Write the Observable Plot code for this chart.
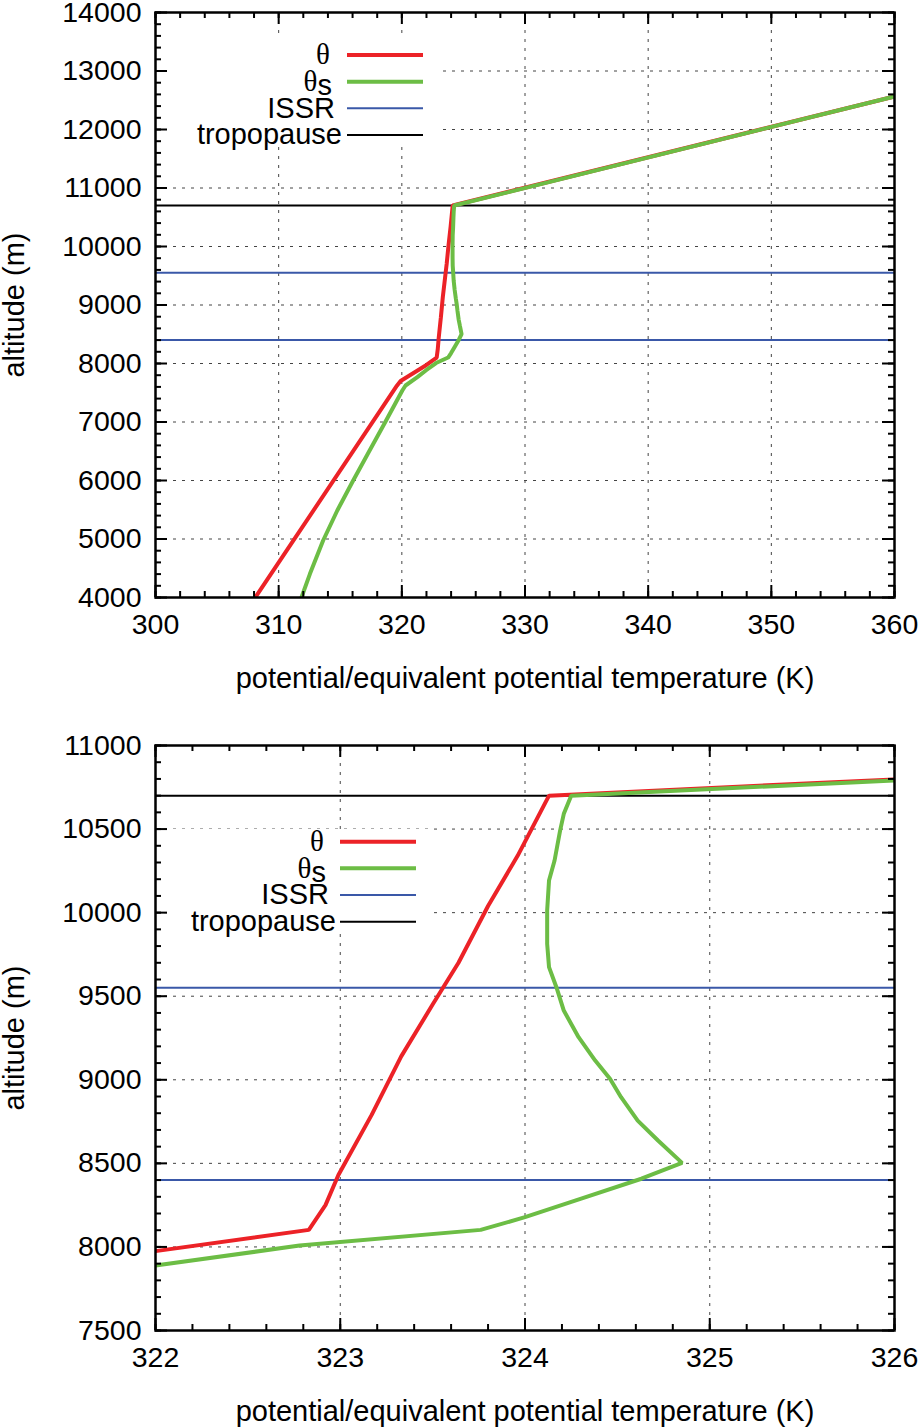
<!DOCTYPE html>
<html>
<head>
<meta charset="utf-8">
<script src="https://cdn.jsdelivr.net/npm/d3@7"></script>
<script src="https://cdn.jsdelivr.net/npm/@observablehq/plot@0.6"></script>
<style>
  body { margin: 0; background: #fff; }
  .panel { position: relative; width: 924px; }
  .legend { position: absolute; left: 0; top: 0; pointer-events: none; }
</style>
</head>
<body>
<div id="chart"></div>
<script>
// ---- data ----
// potential temperature θ (K) and altitude (m)
const thetaK = [308.1, 319.6, 319.9, 322.0, 322.83, 322.92, 322.99, 323.17, 323.33, 323.50, 323.64, 323.80, 323.96, 324.13, 360.0];
const thetaZ = [4000, 7620, 7700, 7975, 8102, 8250, 8430, 8790, 9140, 9450, 9700, 10040, 10340, 10700, 12565];
// saturation equivalent potential temperature θs (K) and altitude (m)
const thetaSK = [311.85, 312.54, 313.61, 314.76, 316.05, 317.24, 318.58, 320.04, 320.3, 321.26, 322.0, 322.78, 323.76, 324.0, 324.3, 324.63, 324.85, 324.72, 324.61, 324.52, 324.46, 324.38, 324.29, 324.21, 324.17, 324.13, 324.12, 324.12, 324.13, 324.16, 324.19, 324.21, 324.25, 360.0];
const thetaSZ = [4000, 4405, 4974, 5487, 6000, 6456, 6969, 7538, 7624, 7766, 7889, 8008, 8102, 8178, 8288, 8408, 8503, 8637, 8756, 8896, 9006, 9115, 9255, 9414, 9554, 9674, 9813, 10013, 10192, 10312, 10491, 10591, 10700, 12565];
// ice-supersaturated region bounds and tropopause (m)
const issrZ = [8400, 9550];
const tropopauseZ = [10700];

// axes
const topXDomain = [300, 360];
const topYDomain = [4000, 14000];
const topXTicks = [300, 310, 320, 330, 340, 350, 360];
const topYTicks = [4000, 5000, 6000, 7000, 8000, 9000, 10000, 11000, 12000, 13000, 14000];
const botXDomain = [322, 326];
const botYDomain = [7500, 11000];
const botXTicks = [322, 323, 324, 325, 326];
const botYTicks = [7500, 8000, 8500, 9000, 9500, 10000, 10500, 11000];
const xLabel = "potential/equivalent potential temperature (K)";
const yLabel = "altitude (m)";
const legendLabels = ["θ", "θs", "ISSR", "tropopause"];

// ---- styles ----
const SANS = "'Liberation Sans', Arial, Helvetica, sans-serif";
const SERIF = "'Liberation Serif', 'Times New Roman', serif";
const RED = "#ec2227", GREEN = "#6cbd45", BLUE = "#3a58a8", GRID = "#444";
const FS = 29, TFS = 28.5;
const legendTextShift = [-12, -10, -7, 0];

const theta = thetaK.map((t, i) => ({t, z: thetaZ[i]}));
const thetaS = thetaSK.map((t, i) => ({t, z: thetaSZ[i]}));

const minor = (dom, step) => d3.range(dom[0], dom[1] + step / 2, step).map(v => +v.toFixed(6));

function makePanel(cfg) {
  const W = 924, ML = 155, MR = 30;
  const plotW = W - ML - MR;
  const plotH = cfg.height - cfg.marginTop - cfg.marginBottom;
  const xMinor = minor(cfg.xDomain, cfg.xMinorStep);
  const yMinor = minor(cfg.yDomain, cfg.yMinorStep);
  const tickStyle = {stroke: "#000", strokeWidth: 2};
  const gridStyle = {stroke: GRID, strokeOpacity: 1, strokeWidth: 1, strokeDasharray: "3,6"};
  const svg = Plot.plot({
    width: W, height: cfg.height,
    marginLeft: ML, marginRight: MR, marginTop: cfg.marginTop, marginBottom: cfg.marginBottom,
    x: {domain: cfg.xDomain},
    y: {domain: cfg.yDomain},
    style: {fontFamily: SANS, fontSize: FS + "px", color: "#000", background: "#fff", overflow: "visible"},
    marks: [
      Plot.gridX(cfg.xTicks.slice(1, -1), gridStyle),
      Plot.gridY(cfg.yTicks.slice(1, -1), gridStyle),
      Plot.ruleY(issrZ, {y: d => d, stroke: BLUE, strokeWidth: 2, clip: true}),
      Plot.ruleY(tropopauseZ, {y: d => d, stroke: "#000", strokeWidth: 2, clip: true}),
      Plot.line(theta, {x: "t", y: "z", stroke: RED, strokeWidth: 4, strokeLinejoin: "miter", clip: true}),
      Plot.line(thetaS, {x: "t", y: "z", stroke: GREEN, strokeWidth: 4, strokeLinejoin: "miter", clip: true}),
      Plot.frame({stroke: "#000", strokeWidth: 2.5}),
      Plot.tickX(xMinor, {x: d => d, insetTop: plotH - 6, ...tickStyle}),
      Plot.tickX(xMinor, {x: d => d, insetBottom: plotH - 6, ...tickStyle}),
      Plot.tickX(cfg.xTicks, {x: d => d, insetTop: plotH - 12, ...tickStyle}),
      Plot.tickX(cfg.xTicks, {x: d => d, insetBottom: plotH - 12, ...tickStyle}),
      Plot.tickY(yMinor, {y: d => d, insetRight: plotW - 6, ...tickStyle}),
      Plot.tickY(yMinor, {y: d => d, insetLeft: plotW - 6, ...tickStyle}),
      Plot.tickY(cfg.yTicks, {y: d => d, insetRight: plotW - 12, ...tickStyle}),
      Plot.tickY(cfg.yTicks, {y: d => d, insetLeft: plotW - 12, ...tickStyle}),
      Plot.axisX(cfg.xTicks, {anchor: "bottom", tickSize: 0, tickPadding: 16, tickFormat: d3.format("d"), fontSize: TFS, label: null}),
      Plot.axisY(cfg.yTicks, {anchor: "left", tickSize: 0, tickPadding: 14, tickFormat: d3.format("d"), fontSize: TFS, label: null}),
      Plot.text([xLabel], {text: d => d, frameAnchor: "bottom", textAnchor: "middle", lineAnchor: "bottom", dy: 90, fontSize: FS}),
      Plot.text([yLabel], {text: d => d, frameAnchor: "left", textAnchor: "middle", lineAnchor: "bottom", rotate: -90, dx: -132, fontSize: FS})
    ]
  });

  const wrap = document.createElement("div");
  wrap.className = "panel";
  wrap.appendChild(svg);

  // legend (opaque key box like the original)
  const lg = cfg.legend;
  const L = d3.create("svg").attr("class", "legend").attr("width", W).attr("height", cfg.height);
  L.append("rect").attr("x", lg.box[0]).attr("y", lg.box[1]).attr("width", lg.box[2]).attr("height", lg.box[3]).attr("fill", "#fff");
  const styles = [
    {stroke: RED, w: 4}, {stroke: GREEN, w: 4}, {stroke: BLUE, w: 2}, {stroke: "#000", w: 2}
  ];
  legendLabels.forEach((lab, i) => {
    const y = lg.rows[i];
    const t = L.append("text").attr("x", lg.textX + legendTextShift[i]).attr("y", y).attr("dy", "0.32em")
      .attr("text-anchor", "end").attr("font-size", FS).attr("font-family", SANS).attr("fill", "#000");
    if (lab.startsWith("θ")) {
      t.append("tspan").attr("font-family", SERIF).text("θ");
      if (lab.length > 1) t.append("tspan").attr("dy", 4).text(lab.slice(1));
    } else {
      t.text(lab);
    }
    L.append("line").attr("x1", lg.line[0]).attr("x2", lg.line[1]).attr("y1", y).attr("y2", y)
      .attr("stroke", styles[i].stroke).attr("stroke-width", styles[i].w);
  });
  wrap.appendChild(L.node());
  return wrap;
}

const chart = document.getElementById("chart");
chart.appendChild(makePanel({
  xDomain: topXDomain, yDomain: topYDomain, xTicks: topXTicks, yTicks: topYTicks,
  xMinorStep: 2, yMinorStep: 200,
  height: 715, marginTop: 12, marginBottom: 118,
  legend: {box: [168, 33, 269, 114], rows: [55, 81.7, 108.3, 135], textX: 342, line: [347, 423]}
}));
chart.appendChild(makePanel({
  xDomain: botXDomain, yDomain: botYDomain, xTicks: botXTicks, yTicks: botYTicks,
  xMinorStep: 0.2, yMinorStep: 100,
  height: 712, marginTop: 30, marginBottom: 97,
  legend: {box: [168, 114, 264, 99], rows: [126.7, 153.3, 180, 206.7], textX: 336, line: [340, 416]}
}));
</script>
</body>
</html>
